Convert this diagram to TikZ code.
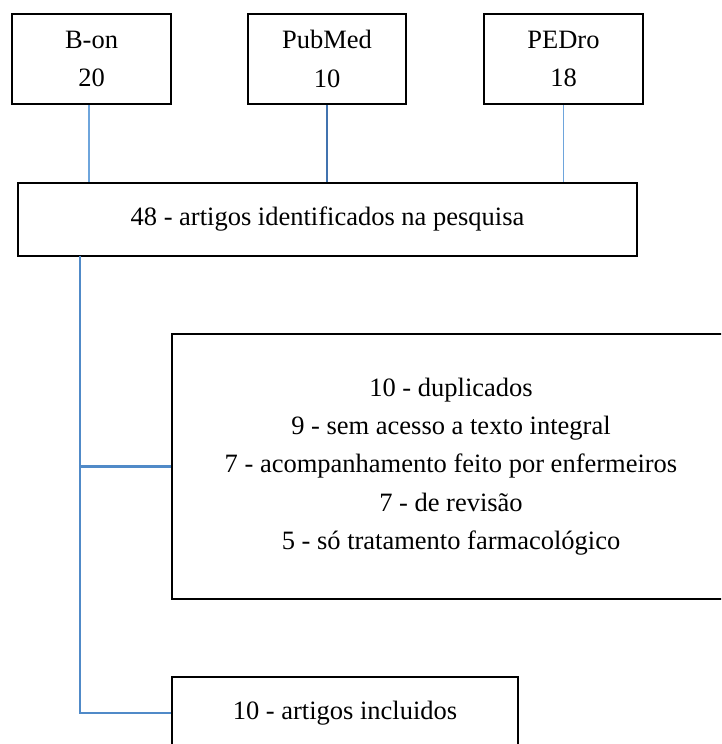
\documentclass[tikz,border=0pt]{standalone}
\usepackage{fontspec}
\setmainfont{Liberation Serif}
\definecolor{lightlink}{RGB}{110,165,220}
\definecolor{darklink}{RGB}{65,115,175}
\definecolor{treeblue}{RGB}{80,138,200}
\begin{document}
\begin{tikzpicture}[x=1pt,y=-1pt,
  box/.style={draw=black,line width=2.2pt,rectangle,inner sep=0pt,align=center,
    font=\fontsize{26.5}{38.3}\selectfont},
  thinlink/.style={draw=lightlink,line width=1.3pt},
  boldlink/.style={draw=darklink,line width=2pt},
  treelink/.style={draw=treeblue,line width=2.2pt}]
\useasboundingbox (0,0) rectangle (721,744);
\clip (0,0) rectangle (721,744);
\fill[white] (0,0) rectangle (721,744);
% source boxes
\node[box,minimum width=159pt,minimum height=90pt] (bon) at (91.5,59) {B-on\\20};
\node[box,minimum width=158pt,minimum height=90pt] (pub) at (327,59) {PubMed\\10};
\node[box,minimum width=159pt,minimum height=90pt] (ped) at (563.5,59) {PEDro\\18};
% main box
\node[box,minimum width=619pt,minimum height=73pt] (main) at (327.5,219.5) {48 - artigos identificados na pesquisa};
% excluded box
\node[box,minimum width=558pt,minimum height=265pt] (big) at (451,466.5)
  {10 - duplicados\\9 - sem acesso a texto integral\\7 - acompanhamento feito por enfermeiros\\7 - de revisão\\5 - só tratamento farmacológico};
% included box
\node[box,minimum width=346pt,minimum height=72pt] (inc) at (345,713) {10 - artigos incluidos};
% connectors
\draw[thinlink] ([xshift=-2.5pt]bon.south) -- ([xshift=-2.5pt]bon.south |- main.north);
\draw[boldlink] (pub.south) -- (pub.south |- main.north);
\draw[thinlink] (ped.south) -- (ped.south |- main.north);
\coordinate (ttop) at (80,256);
\draw[treelink] (ttop) |- (big.west);
\draw[treelink] (ttop) |- (inc.west);
\end{tikzpicture}
\end{document}
